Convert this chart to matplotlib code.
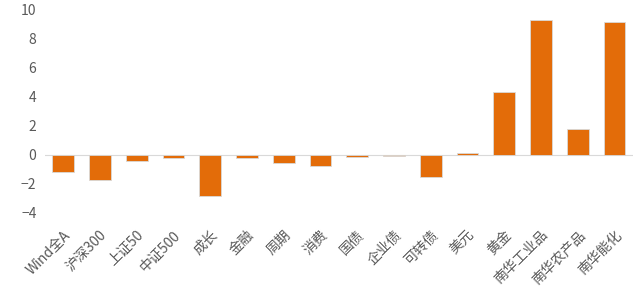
import matplotlib
matplotlib.use('Agg')
import matplotlib.pyplot as plt

plt.rcParams['font.family'] = ['Noto Sans CJK SC', 'DejaVu Sans']

# categories and values (%)
categories = ['Wind全A', '沪深300', '上证50', '中证500', '成长', '金融', '周期', '消费',
              '国债', '企业债', '可转债', '美元', '黄金', '南华工业品', '南华农产品', '南华能化']
values = [-1.22, -1.72, -0.46, -0.25, -2.83, -0.25, -0.57, -0.8,
          -0.18, -0.11, -1.52, 0.09, 4.34, 9.31, 1.77, 9.17]
yticks = [-4, -2, 0, 2, 4, 6, 8, 10]

fig = plt.figure(figsize=(6.4, 2.99), dpi=100)
ax = fig.add_axes([0.070, 0.289, 0.919, 0.678])

x = range(len(categories))
ax.bar(x, values, width=0.59, color='#E36C09', edgecolor='#D9D9D9', linewidth=0.6, zorder=2)
ax.axhline(0, color='#D9D9D9', linewidth=0.8, zorder=1)

ax.set_xlim(-0.5, len(categories) - 0.5)
ax.set_ylim(-4, 10)
ax.set_yticks(yticks)
ax.set_xticks(list(x))
ax.set_xticklabels(categories, rotation=45, ha='right', rotation_mode='anchor')

ax.tick_params(axis='y', length=0, labelsize=10, colors='#595959', pad=6)
ax.tick_params(axis='x', length=0, labelsize=10, colors='#595959', pad=11)
for s in ax.spines.values():
    s.set_visible(False)

fig.savefig('out.png', dpi=100)
